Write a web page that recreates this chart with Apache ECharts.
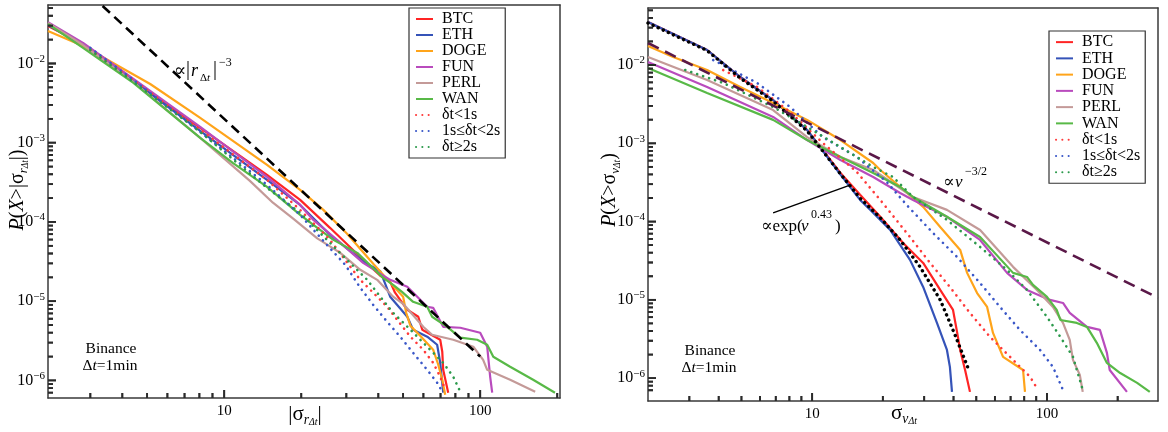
<!DOCTYPE html>
<html><head><meta charset="utf-8">
<script src="https://cdn.jsdelivr.net/npm/echarts@6/dist/echarts.min.js"></script>
<style>html,body{margin:0;padding:0;background:#fff}#c{width:1168px;height:432px}</style>
</head><body><div id="c"></div>
<script>
// ---------------- data ----------------
const seriesNames = ['BTC','ETH','DOGE','FUN','PERL','WAN','δt<1s','1s≤δt<2s','δt≥2s'];

// Left panel: P(X>|σ_r|) vs |σ_r|
const L_BTC  = [[2.05,0.0297],[2.81,0.0176],[4.42,0.00619],[8.06,0.00154],[14.7,3.93e-4],[19.8,1.90e-4],[25.9,8.43e-5],[34.9,3.33e-5],[40.7,2.09e-5],[44.5,1.76e-5],[46.5,1.28e-5],[51.9,7.79e-6],[57.3,6.36e-6],[59.4,4.36e-6],[69.8,3.26e-6],[71.1,2.30e-6],[71.7,1.36e-6],[75.0,7.0e-7]];
const L_ETH  = [[2.05,0.0306],[2.81,0.0171],[4.42,0.00601],[8.06,0.00141],[14.7,3.40e-4],[19.8,1.64e-4],[25.9,6.88e-5],[34.9,3.18e-5],[40.7,2.39e-5],[44.5,1.14e-5],[51.9,6.36e-6],[54.7,4.36e-6],[62.1,3.56e-6],[67.9,2.82e-6],[69.8,1.67e-6],[71.7,7.0e-7]];
const L_DOGE = [[2.05,0.0257],[2.81,0.0166],[5.14,0.00551],[8.06,0.00206],[14.7,5.25e-4],[19.8,2.54e-4],[24.4,1.42e-4],[30.2,7.08e-5],[38.2,2.96e-5],[45.7,1.57e-5],[50.0,1.14e-5],[51.4,7.14e-6],[53.4,4.88e-6],[58.3,3.66e-6],[65.5,2.44e-6],[68.5,1.60e-6],[71.1,1.02e-6],[73.0,6.6e-7]];
const L_FUN  = [[2.05,0.0333],[2.81,0.0182],[4.42,0.00638],[8.06,0.00158],[14.7,3.71e-4],[19.8,1.64e-4],[22.3,1.06e-4],[27.6,5.94e-5],[34.9,3.05e-5],[44.5,1.86e-5],[51.9,1.52e-5],[62.1,8.50e-6],[65.5,8.25e-6],[71.7,4.75e-6],[83.6,4.62e-6],[100,4.00e-6],[106.5,2.66e-6],[109.4,1.11e-6],[111.4,7.0e-7]];
const L_PERL = [[2.05,0.0324],[2.81,0.0171],[4.42,0.00585],[8.06,0.00115],[12.6,3.3e-4],[15.5,1.75e-4],[18.6,1.1e-4],[23.1,6.2e-5],[28.4,4.07e-5],[34.0,2.49e-5],[39.6,1.86e-5],[45.7,1.14e-5],[50.0,9.27e-6],[59.9,4.75e-6],[64.9,3.77e-6],[78.5,3.26e-6],[94.0,2.66e-6],[102.7,1.82e-6],[106.5,1.36e-6],[130.9,1.02e-6],[164,7.2e-7]];
const L_WAN  = [[2.05,0.0315],[2.81,0.0157],[3.28,0.0111],[4.42,0.00568],[8.06,0.00115],[10.8,5.56e-4],[14.7,2.77e-4],[19.8,1.23e-4],[26.7,5.94e-5],[33.1,4.07e-5],[41.8,1.97e-5],[45.7,1.61e-5],[49.5,1.31e-5],[54.7,9.82e-6],[62.1,8.50e-6],[64.9,6.36e-6],[74.3,4.75e-6],[83.6,3.46e-6],[97.3,3.26e-6],[106.5,2.82e-6],[112.5,1.99e-6],[130.9,1.49e-6],[161,1.02e-6],[196,7.0e-7]];
const L_DT1  = [[3.0,0.0148],[4.42,0.00619],[8.06,0.00145],[14.7,3.40e-4],[19.8,1.42e-4],[25.9,5.94e-5],[34.0,1.86e-5],[38.2,1.28e-5],[43.3,8.50e-6],[47.4,5.83e-6],[53.4,3.56e-6],[59.9,2.44e-6],[65.5,1.67e-6],[69.8,1.11e-6],[73.0,7.63e-7]];
const L_DT2  = [[3.0,0.0157],[4.42,0.00619],[8.06,0.00137],[14.7,2.94e-4],[19.8,1.23e-4],[25.2,5.14e-5],[29.7,2.88e-5],[34.0,1.48e-5],[38.2,9.0e-6],[43.3,5.50e-6],[48.7,3.56e-6],[54.7,2.23e-6],[62.1,1.36e-6],[67.9,9.35e-7],[71.1,7.2e-7]];
const L_DT3  = [[3.0,0.0148],[4.42,0.00585],[8.06,0.00137],[14.7,2.69e-4],[19.8,1.30e-4],[25.2,5.94e-5],[31.0,3.05e-5],[36.2,1.86e-5],[40.7,1.14e-5],[45.7,7.14e-6],[53.4,4.36e-6],[62.1,2.66e-6],[71.7,1.67e-6],[78.5,1.11e-6],[83.6,7.2e-7]];
const L_POW3 = [[3.35,0.0532],[100,2.0e-6]];

// Right panel: P(X>σ_v) vs σ_v
const R_BTC  = [[2.0,0.0354],[3.57,0.01556],[4.94,0.00703],[6.82,0.00357],[9.52,0.00148],[13.2,4.18e-4],[16.0,2.2e-4],[19.5,1.15e-4],[24.4,5.33e-5],[29.7,2.96e-5],[35.1,1.34e-5],[39.8,7.43e-6],[41.4,3.9e-6],[42.7,2.29e-6],[44.8,1.27e-6],[47.0,6.67e-7]];
const R_ETH  = [[2.0,0.0354],[3.57,0.01556],[4.94,0.00703],[6.82,0.00357],[9.52,0.00148],[13.2,3.98e-4],[16.0,1.89e-4],[17.7,1.41e-4],[21.5,7.81e-5],[26.1,3.24e-5],[29.7,1.46e-5],[34.0,5.07e-6],[37.5,2.29e-6],[38.6,1.39e-6],[39.4,6.67e-7]];
const R_DOGE = [[2.0,0.0175],[2.56,0.01265],[3.57,0.00863],[4.94,0.00524],[6.82,0.00327],[9.52,0.00199],[13.2,0.00110],[18.2,5.60e-4],[19.5,4.56e-4],[23.7,2.77e-4],[29.7,1.54e-4],[35.1,8.53e-5],[42.7,4.34e-5],[45.7,2.21e-5],[50.4,1.22e-5],[55.6,8.11e-6],[58.9,3.78e-6],[65.0,1.87e-6],[79.1,1.27e-6],[80.6,6.67e-7]];
const R_FUN  = [[2.0,0.01092],[3.57,0.00524],[6.82,0.00217],[9.52,0.00110],[13.2,6.12e-4],[18.2,3.71e-4],[23.7,2.32e-4],[26.9,1.89e-4],[37.5,1.15e-4],[51.9,5.82e-5],[67.6,2.21e-5],[82.2,1.34e-5],[96.2,1.09e-5],[103,9.97e-6],[117,9.12e-6],[125,6.80e-6],[148,4.51e-6],[168,4.13e-6],[180,2.10e-6],[185,1.27e-6],[219,6.67e-7]];
const R_PERL = [[2.0,0.01265],[3.57,0.00643],[6.82,0.00266],[9.52,0.00120],[13.2,6.68e-4],[18.2,4.56e-4],[26.9,2.06e-4],[37.5,1.41e-4],[51.9,7.81e-5],[71.7,2.64e-5],[90.6,1.34e-5],[106,8.11e-6],[117,5.07e-6],[125,3.08e-6],[129,1.71e-6],[138,1.10e-6],[142,6.67e-7]];
const R_WAN  = [[2.0,0.00916],[3.57,0.00439],[6.82,0.00199],[9.52,0.00110],[13.2,6.68e-4],[18.2,4.18e-4],[23.7,2.77e-4],[26.9,2.06e-4],[37.5,1.15e-4],[51.9,6.35e-5],[71.7,2.21e-5],[82.2,1.96e-5],[87.2,1.55e-5],[100,1.09e-5],[110,7.43e-6],[114,5.53e-6],[134,5.07e-6],[148,4.51e-6],[163,2.82e-6],[180,1.56e-6],[205,1.16e-6],[242,8.69e-7],[274,6.67e-7]];
const R_DT1  = [[4.18,0.00863],[5.83,0.00524],[8.06,0.00251],[11.1,0.00101],[15.5,4.30e-4],[19.5,1.89e-4],[26.1,6.35e-5],[31.8,2.96e-5],[38.6,1.46e-5],[47.0,6.80e-6],[57.2,3.36e-6],[69.6,1.87e-6],[84.7,1.04e-6],[91.6,7.06e-7]];
const R_DT2  = [[3.79,0.01159],[5.83,0.00589],[8.06,0.00291],[11.1,0.00120],[15.5,6.68e-4],[20.8,3.2e-4],[25.4,1.6e-4],[32.7,7.15e-5],[41.4,3.53e-5],[51.9,1.64e-5],[63.1,8.11e-6],[76.7,4.13e-6],[93.4,2.29e-6],[106,1.39e-6],[117,7.06e-7]];
const R_DT3  = [[2.88,0.00863],[4.18,0.00589],[6.82,0.00291],[9.52,0.00162],[13.2,8.97e-4],[18.2,4.98e-4],[22.1,3.71e-4],[26.9,2.06e-4],[37.5,1.05e-4],[51.9,4.74e-5],[67.6,2.41e-5],[82.2,1.34e-5],[100,6.05e-6],[114,3.36e-6],[129,1.87e-6],[138,9.48e-7],[142,7.06e-7]];
const R_EXPFIT = [[2.0,0.0344],[3.57,0.0153],[4.94,0.0068],[6.82,0.00346],[9.52,0.00144],[13.2,4.06e-4],[16.0,1.99e-4],[19.5,1.12e-4],[23.7,5.82e-5],[28.8,2.64e-5],[35.1,1.0e-5],[40.6,3.56e-6],[46.1,1.35e-6]];
const R_POW32 = [[2.0,0.0191],[297,1.06e-5]];
const R_ARROW = [[6.82,1.29e-4],[14.5,2.92e-4]];

// axis ranges and tick values
const L_X = [2.05, 205], L_Y = [6.0e-7, 0.0547];
const R_X = [2.0, 297],  R_Y = [5.1e-7, 0.0535];
const xMajorTicks = [10, 100];
const yMajorTicks = [1e-6, 1e-5, 1e-4, 1e-3, 1e-2];
const xMinorTicks = [3,4,5,6,7,8,9,20,30,40,50,60,70,80,90,200];
const yMinorTicks = [7e-7,8e-7,9e-7,2e-6,3e-6,4e-6,5e-6,6e-6,7e-6,8e-6,9e-6,2e-5,3e-5,4e-5,5e-5,6e-5,7e-5,8e-5,9e-5,
  2e-4,3e-4,4e-4,5e-4,6e-4,7e-4,8e-4,9e-4,2e-3,3e-3,4e-3,5e-3,6e-3,7e-3,8e-3,9e-3,2e-2,3e-2,4e-2,5e-2];

// ---------------- layout & styling ----------------
const GRIDS = [{left:48, top:5, width:512, height:393}, {left:648, top:8, width:510, height:393}];
const SERIF = '"Liberation Serif","DejaVu Serif",serif';
const AX = '#3a3a3a';
const TICK = '#2a2a2a';
const C = {BTC:'#ff2424', ETH:'#3553b8', DOGE:'#ffa41a', FUN:'#b94bbd', PERL:'#c49a98', WAN:'#58b947',
           D1:'#ff3a3a', D2:'#3a57c8', D3:'#2c9a4c'};
const solid = c => ({color:c, width:2.2});
const dotted = c => ({color:c, width:2.6, type:[0.1,6.2], cap:'round'});

function line(name, data, gi, ls, z) {
  return {type:'line', name, data, xAxisIndex:gi, yAxisIndex:gi, symbol:'none', showSymbol:false,
    lineStyle:ls, itemStyle:{color:ls.color}, animation:false, z:z||2, emphasis:{disabled:true}};
}
// Tick marks as short segments through the log axes (pixel length -> factor on the log scale)
function tickSeries(gi, xr, yr) {
  const g = GRIDS[gi];
  const decPerPxX = Math.log10(xr[1]/xr[0]) / g.width;
  const decPerPxY = Math.log10(yr[1]/yr[0]) / g.height;
  const data = [];
  const addX = (v, len) => { if (v > xr[0] && v < xr[1]) data.push([v, yr[0]], [v, yr[0]*Math.pow(10, len*decPerPxY)], [v, '-']); };
  const addY = (v, len) => { if (v > yr[0] && v < yr[1]) data.push([xr[0], v], [xr[0]*Math.pow(10, len*decPerPxX), v], ['-', v]); };
  xMajorTicks.forEach(v => addX(v, 8)); xMinorTicks.forEach(v => addX(v, 5));
  yMajorTicks.forEach(v => addY(v, 8)); yMinorTicks.forEach(v => addY(v, 5));
  return {type:'line', name:'_ticks'+gi, data, xAxisIndex:gi, yAxisIndex:gi, symbol:'none', showSymbol:false,
    connectNulls:false, silent:true, animation:false, z:6, clip:false, emphasis:{disabled:true},
    lineStyle:{color:TICK, width:1.8, cap:'butt'}};
}
function powLabel(v){
  const e = Math.log10(v), r = Math.round(e);
  if (Math.abs(e-r) > 1e-6) return '';
  return '10{sup|−' + (-r) + '}';
}
function xLabel(v){
  const e = Math.log10(v), r = Math.round(e);
  if (Math.abs(e-r) > 1e-6) return '';
  return String(Math.round(v));
}
const labelRich = {sup:{fontSize:11, fontFamily:SERIF, lineHeight:10, verticalAlign:'top', color:'#000'}};
const frameLine = {show:true, onZero:false, lineStyle:{color:AX, width:1.5}};
function mainAxis(dim, gi, r, labelCfg){
  return {type:'log', logBase:10, gridIndex:gi, min:r[0], max:r[1], position: dim==='x' ? 'bottom' : 'left',
    axisLine:frameLine, splitLine:{show:false}, minorSplitLine:{show:false},
    axisTick:{show:false}, minorTick:{show:false}, axisLabel:labelCfg};
}
function frameAxis(dim, gi, r){
  return {type:'log', logBase:10, gridIndex:gi, min:r[0], max:r[1], position: dim==='x' ? 'top' : 'right',
    axisLine:frameLine, axisTick:{show:false}, minorTick:{show:false}, axisLabel:{show:false}, splitLine:{show:false}};
}
const xLab = {formatter:xLabel, fontFamily:SERIF, fontSize:15, color:'#000', margin:6};
const yLab = {formatter:powLabel, fontFamily:SERIF, fontSize:16, color:'#000', margin:3, lineHeight:20, rich:labelRich};

function legend(left, top, lh) {
  return {show:true, orient:'vertical', left, top, data:seriesNames, selectedMode:false,
    padding:[3,5,3,6], itemGap:0, itemWidth:17, itemHeight:10,
    itemStyle:{opacity:0},
    borderColor:'#333', borderWidth:1.2, backgroundColor:'#fff',
    textStyle:{fontFamily:SERIF, fontSize:16, color:'#000', lineHeight:lh, padding:[0,0,0,4]}};
}

function txt(x, y, text, size, italic) {
  return {type:'text', silent:true, z:50, style:{x, y, text, fill:'#000',
    font:(italic?'italic ':'') + size + 'px ' + SERIF, verticalAlign:'middle', align:'left'}};
}
function richTxt(x, y, text) {
  return {type:'text', silent:true, z:50, style:{x, y, text, align:'center', verticalAlign:'middle',
    rich:{a:{fontFamily:SERIF, fontSize:15.5, fill:'#000'}, b:{fontFamily:SERIF, fontSize:15.5, fontStyle:'italic', fill:'#000'}}}};
}
function mkTitleRich(fs) {
  return {
    n:{fontSize:fs, fontFamily:SERIF, lineHeight:fs+5, fill:'#000'},
    i:{fontSize:fs, fontFamily:SERIF, fontStyle:'italic', lineHeight:fs+5, fill:'#000'},
    sub:{fontSize:fs*0.65, fontFamily:SERIF, fontStyle:'italic', lineHeight:fs*0.62, verticalAlign:'bottom', fill:'#000'},
    ss:{fontSize:fs*0.47, fontFamily:SERIF, fontStyle:'italic', lineHeight:fs*0.26, verticalAlign:'bottom', fill:'#000'}
  };
}
function title(x, y, text, fs, rot) {
  return {type:'text', silent:true, z:50, x, y, rotation:rot||0,
    style:{x:0, y:0, text, align:'center', verticalAlign:'middle', rich:mkTitleRich(fs)}};
}

const baseGraphic = [
  // axis titles
  title(18, 190, '{i|P}{n|(}{i|X}{n|>|σ}{sub|r}{ss|Δt}{n||)}', 20, Math.PI/2),
  title(610, 190, '{i|P}{n|(}{i|X}{n|>σ}{sub|v}{ss|Δt}{n|)}', 20, Math.PI/2),
  title(305, 414, '{n||σ}{sub|r}{ss|Δt}{n||}', 21),
  title(904, 413, '{n|σ}{sub|v}{ss|Δt}', 21),
  // left power-law annotation
  txt(174, 71, '∝', 18, false),
  txt(186, 70, '|', 20, false),
  txt(191, 71, 'r', 18, true),
  txt(200, 78, 'Δ', 11, false),
  txt(207, 78, 't', 11, true),
  txt(213, 70, '|', 20, false),
  txt(219, 63, '−3', 12, false),
  // right annotations
  txt(943, 183, '∝', 17, false),
  txt(955, 183, 'v', 17, true),
  txt(965, 172, '−3/2', 12, false),
  txt(761, 227, '∝exp(', 17, false),
  txt(801, 227, 'v', 17, true),
  txt(811, 215, '0.43', 12, false),
  txt(835, 227, ')', 17, false),
  // exchange labels
  richTxt(111, 349, '{a|Binance}'),
  richTxt(110, 366, '{a|Δ}{b|t}{a|=1min}'),
  richTxt(710, 351, '{a|Binance}'),
  richTxt(709, 368, '{a|Δ}{b|t}{a|=1min}')
];

const option = {
  backgroundColor:'#fff',
  animation:false,
  grid: GRIDS.map(g => Object.assign({outerBoundsMode:'none', containLabel:false, show:false}, g)),
  xAxis:[ mainAxis('x', 0, L_X, xLab), mainAxis('x', 1, R_X, xLab), frameAxis('x', 0, L_X), frameAxis('x', 1, R_X) ],
  yAxis:[ mainAxis('y', 0, L_Y, yLab), mainAxis('y', 1, R_Y, yLab), frameAxis('y', 0, L_Y), frameAxis('y', 1, R_Y) ],
  legend:[ legend(409, 8, 16), legend(1049, 31, 16.25) ],
  series:[
    line('BTC', L_BTC, 0, solid(C.BTC), 3),
    line('ETH', L_ETH, 0, solid(C.ETH), 3),
    line('DOGE', L_DOGE, 0, solid(C.DOGE), 3),
    line('FUN', L_FUN, 0, solid(C.FUN), 3),
    line('PERL', L_PERL, 0, solid(C.PERL), 3),
    line('WAN', L_WAN, 0, solid(C.WAN), 3),
    line('δt<1s', L_DT1, 0, dotted(C.D1), 4),
    line('1s≤δt<2s', L_DT2, 0, dotted(C.D2), 4),
    line('δt≥2s', L_DT3, 0, dotted(C.D3), 4),
    line('_pow3', L_POW3, 0, {color:'#000', width:2.6, type:[10,6]}, 5),

    line('BTC', R_BTC, 1, solid(C.BTC), 3),
    line('ETH', R_ETH, 1, solid(C.ETH), 3),
    line('DOGE', R_DOGE, 1, solid(C.DOGE), 3),
    line('FUN', R_FUN, 1, solid(C.FUN), 3),
    line('PERL', R_PERL, 1, solid(C.PERL), 3),
    line('WAN', R_WAN, 1, solid(C.WAN), 3),
    line('δt<1s', R_DT1, 1, dotted(C.D1), 4),
    line('1s≤δt<2s', R_DT2, 1, dotted(C.D2), 4),
    line('δt≥2s', R_DT3, 1, dotted(C.D3), 4),
    Object.assign(line('_expfit', R_EXPFIT, 1, {color:'#000', width:3.4, type:[0.1,5.5], cap:'round'}, 5), {
      markLine:{silent:true, animation:false, symbol:['none','arrow'], symbolSize:[0,10],
        lineStyle:{color:'#000', width:1.5, type:'solid'}, label:{show:false},
        data:[[{coord:R_ARROW[0]},{coord:R_ARROW[1]}]]}
    }),
    line('_pow32', R_POW32, 1, {color:'#5a1848', width:2.6, type:[12,7]}, 5),
    tickSeries(0, L_X, L_Y),
    tickSeries(1, R_X, R_Y)
  ],
  graphic: baseGraphic
};
const chart = echarts.init(document.getElementById('c'));
chart.setOption(option);

// Same tick marks also as graphic lines, positioned through the chart's own axes
function tickGraphics(gi, xr, yr) {
  const out = [];
  let finder = {xAxisIndex:gi, yAxisIndex:gi};
  let x0 = null;
  try { x0 = chart.convertToPixel(finder, [xr[0], yr[0]]); } catch (e) { x0 = null; }
  if (!x0) { finder = {gridIndex:gi}; try { x0 = chart.convertToPixel(finder, [xr[0], yr[0]]); } catch (e) { x0 = null; } }
  if (!x0 || !isFinite(x0[0]) || !isFinite(x0[1])) return out;
  const seg = (x1, y1, x2, y2) => out.push({type:'line', silent:true, z:40,
    shape:{x1, y1, x2, y2}, style:{stroke:TICK, lineWidth:1.8}});
  const addX = (v, len) => { if (v > xr[0] && v < xr[1]) { const p = chart.convertToPixel(finder, [v, yr[0]]); if (p) seg(p[0], x0[1], p[0], x0[1]-len); } };
  const addY = (v, len) => { if (v > yr[0] && v < yr[1]) { const p = chart.convertToPixel(finder, [xr[0], v]); if (p) seg(x0[0], p[1], x0[0]+len, p[1]); } };
  xMajorTicks.forEach(v => addX(v, 8)); xMinorTicks.forEach(v => addX(v, 5));
  yMajorTicks.forEach(v => addY(v, 8)); yMinorTicks.forEach(v => addY(v, 5));
  return out;
}
try {
  chart.setOption({graphic: baseGraphic.concat(tickGraphics(0, L_X, L_Y), tickGraphics(1, R_X, R_Y))});
} catch (e) {}
</script>
</body></html>
